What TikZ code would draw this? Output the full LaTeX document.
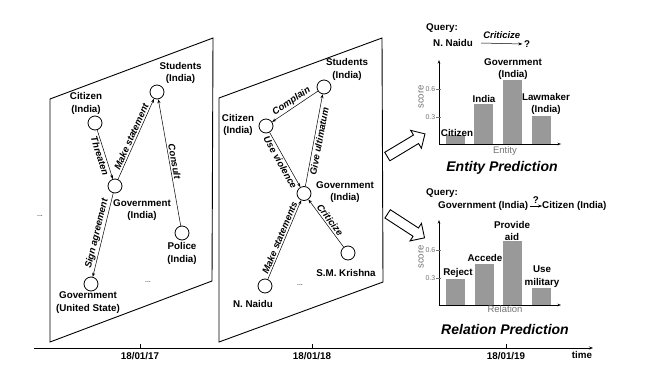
\documentclass[tikz,border=0pt]{standalone}
\usepackage{fontspec}
\setmainfont{Liberation Sans}
\usetikzlibrary{arrows.meta, shapes.arrows}
\definecolor{BarGray}{RGB}{153,153,153}
\definecolor{AxisGray}{RGB}{115,115,115}

\begin{document}
\begin{tikzpicture}[x=1pt, y=-1pt,
            ent/.style={circle, draw, line width=0.8pt, minimum size=14pt, inner sep=0pt},
            lbl/.style={font=\fontsize{9.8}{12.5}\selectfont\bfseries, align=center, inner sep=0pt},
            rel/.style={-{Stealth[length=4pt, width=3pt]}, line width=0.5pt},
            rlbl/.style={font=\fontsize{9.5}{11}\selectfont\bfseries\itshape, sloped, inner sep=1.5pt},
            frame/.style={line width=0.9pt},
            axis/.style={-{Stealth[length=3.5pt, width=2.5pt]}, line width=0.8pt},
            bar/.style={fill=BarGray},
            gtxt/.style={text=AxisGray, font=\fontsize{9.5}{11}\selectfont, inner sep=0pt},
            ttl/.style={font=\fontsize{14}{16}\selectfont\bfseries\itshape},
            blk/.style={single arrow, draw, line width=0.9pt, fill=white, inner sep=4.5pt,
                        single arrow head extend=5.5pt, minimum height=44pt}
        ]
        \useasboundingbox (0,0) rectangle (645,383);

        % Snapshot 18/01/17
        \draw[frame] (50,99) -- (213,38) -- (212,281) -- (50,342) -- cycle;
        \node[ent] (lcit) at (95,123) {};
        \node[ent] (lstu) at (157,92) {};
        \node[ent] (lgov) at (115,186) {};
        \node[ent] (lpol) at (182,233) {};
        \node[ent] (lus) at (91,284) {};
        \node[lbl] (lcitl) at (86,103.5) {Citizen\\(India)};
        \node[lbl] (lstul) at (180.5,73) {Students\\(India)};
        \node[lbl] (lgovl) at (142,210) {Government\\(India)};
        \node[lbl] (lpoll) at (182,253.5) {Police\\(India)};
        \node[lbl] (lusl) at (88,302.5) {Government\\(United State)};
        \node[font=\scriptsize] (ldots) at (148,282) {...};
        \node[font=\scriptsize] (odots) at (40,216) {...};

        \draw[rel] (lcit) -- node[rlbl, below] {Threaten} (lgov);
        \draw[rel] (lgov) -- node[rlbl, above] {Make statement} (lstu);
        \draw[rel] (lpol) -- node[rlbl, above] {Consult} (lstu);
        \draw[rel] (lgov) -- node[rlbl, above] {Sign agreement} (lus);

        % Snapshot 18/01/18
        \draw[frame] (219,98) -- (382,38) -- (383,282) -- (219,342) -- cycle;
        \node[ent] (mstu) at (324,87) {};
        \node[ent] (mcit) at (266,126) {};
        \node[ent] (mgov) at (304,193.5) {};
        \node[ent] (mkri) at (348,253) {};
        \node[ent] (mnai) at (265,286) {};
        \node[lbl] (mstul) at (347,69.5) {Students\\(India)};
        \node[lbl] (mcitl) at (238,125) {Citizen\\(India)};
        \node[lbl] (mgovl) at (345,192) {Government\\(India)};
        \node[lbl] (mkril) at (346,273) {S.M. Krishna};
        \node[lbl] (mnail) at (253,304) {N. Naidu};
        \node[font=\scriptsize] (mdots) at (300,285) {...};

        \draw[rel] (mstu) -- node[rlbl, above] {Complain} (mcit);
        \draw[rel] (mcit) -- node[rlbl, below] {Use violence} (mgov);
        \draw[rel] (mgov) -- node[rlbl, below] {Give ultimatum} (mstu);
        \draw[rel] (mnai) -- node[rlbl, above] {Make statements} (mgov);
        \draw[rel] (mkri) -- node[rlbl, above] {Criticize} (mgov);

        % Hollow arrows to the predictions
        \node[blk, rotate=31] (arrE) at (404,146.5) {};
        \node[blk, rotate=-33] (arrR) at (404,224.5) {};

        % Entity prediction
        \node[lbl, anchor=west] (q1) at (426,28) {Query:};
        \node[lbl, anchor=west] (q1sub) at (433,43) {N. Naidu};
        \node[lbl] (q1obj) at (527,44) {?};
        \draw[rel] ([xshift=8pt]q1sub.east) -- node[above=1pt, font=\fontsize{9.5}{11}\selectfont\bfseries\itshape] {Criticize} ([xshift=-1.5pt]q1obj.west);

        \foreach \x/\h in {446/9, 474/40, 503/64, 532/28}
            \fill[bar] (\x,144) rectangle ++(19,-\h);
        \draw[axis] (439,144) -- (439,60);
        \draw[axis] (439,144) -- (561,144);
        \foreach \y/\t in {117/0.3, 89/0.6} {
            \draw[AxisGray, line width=0.5pt] (436,\y) -- (441,\y);
            \node[gtxt, anchor=east, font=\fontsize{7}{8}\selectfont] at (435.5,\y) {\t};
        }
        \node[gtxt, rotate=90] (s1) at (421,97) {score};
        \node[gtxt] (e1) at (505,151) {Entity};
        \node[lbl] (b1) at (457,133) {Citizen};
        \node[lbl] (b2) at (484,99) {India};
        \node[lbl] (b3) at (513,69) {Government\\(India)};
        \node[lbl] (b4) at (546,104) {Lawmaker\\(India)};
        \node[ttl] (t1) at (502,168) {Entity Prediction};

        % Relation prediction
        \node[lbl, anchor=west] (q2) at (426,193) {Query:};
        \node[lbl, anchor=west] (q2sub) at (438,206) {Government (India)};
        \node[lbl, anchor=west] (q2obj) at (542,206) {Citizen (India)};
        \draw[rel] ([xshift=1.5pt]q2sub.east) -- node[lbl, above=2pt] {?} (q2obj.west);

        \foreach \x/\h in {446/26, 475/41, 503/64, 532/17}
            \fill[bar] (\x,305) rectangle ++(19,-\h);
        \draw[axis] (439,305) -- (439,220);
        \draw[axis] (439,305) -- (561,305);
        \foreach \y/\t in {278/0.3, 250/0.6} {
            \draw[AxisGray, line width=0.5pt] (436,\y) -- (441,\y);
            \node[gtxt, anchor=east, font=\fontsize{7}{8}\selectfont] at (435.5,\y) {\t};
        }
        \node[gtxt, rotate=90] (s2) at (421,257) {score};
        \node[gtxt] (e2) at (505,309) {Relation};
        \node[lbl] (c1) at (458,273) {Reject};
        \node[lbl] (c2) at (485,258) {Accede};
        \node[lbl] (c3) at (512,231) {Provide\\aid};
        \node[lbl] (c4) at (542,276.5) {Use\\military};
        \node[ttl] (t2) at (505,329) {Relation Prediction};

        % Time axis
        \coordinate (tstart) at (34,348);
        \coordinate (tend) at (593,348);
        \draw[-{Stealth[length=4pt, width=3pt]}, line width=0.8pt] (tstart) -- (tend);
        \foreach \x/\d in {140/17, 312/18, 506/19} {
            \draw[line width=0.5pt] (\x,344) -- (\x,348);
            \node[lbl] (date\d) at (\x,356) {18/01/\d};
        }
        \node[lbl] (time) at (582,355) {time};

        \end{tikzpicture}
\end{document}
